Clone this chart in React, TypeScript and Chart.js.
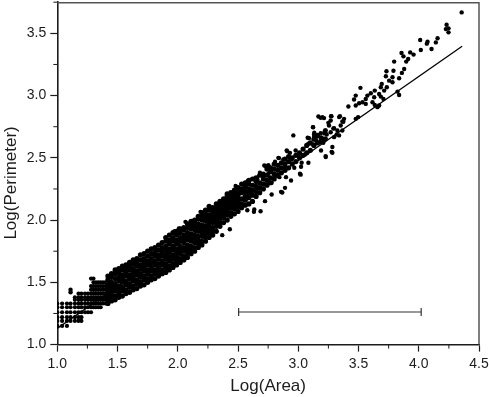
import React, { useEffect, useRef } from "react";
import { Chart, registerables } from "chart.js";

Chart.register(...registerables);

const areaSteps = [1.0, 1.04, 1.08, 1.11, 1.146, 1.176, 1.2, 1.23, 1.255, 1.28, 1.3, 1.32, 1.34, 1.36, 1.38, 1.4, 1.415];
const rowLevels = [1.15, 1.19, 1.22, 1.26, 1.3, 1.33, 1.36, 1.38, 1.41, 1.44, 1.47, 1.5, 1.53];
const rowExtents = [
  [1.0, 1.08], [1.0, 1.2], [1.0, 1.2], [1.0, 1.29], [1.0, 1.36], [1.0, 1.415],
  [1.146, 1.415], [1.146, 1.415], [1.176, 1.415], [1.28, 1.415], [1.28, 1.415], [1.3, 1.415], [1.28, 1.3],
];
const denseColumnX = [
  1.42, 1.45, 1.48, 1.51, 1.54, 1.57, 1.6, 1.63, 1.66, 1.69, 1.72, 1.75, 1.78, 1.81, 1.84, 1.87, 1.9, 1.93, 1.96, 1.99,
  2.02, 2.05, 2.08, 2.11, 2.14, 2.17, 2.2, 2.23, 2.26, 2.29, 2.32, 2.35, 2.38, 2.41, 2.44, 2.47, 2.5, 2.53, 2.56, 2.59,
  2.62, 2.65, 2.68, 2.71, 2.74, 2.77, 2.8, 2.83, 2.86, 2.89, 2.92, 2.95, 2.98, 3.01, 3.04, 3.07, 3.1, 3.13, 3.16, 3.19, 3.22,
];
const denseColumnY = [
  [1.33, 1.36, 1.39, 1.42, 1.45, 1.49, 1.52, 1.55],
  [1.35, 1.38, 1.41, 1.44, 1.47, 1.5, 1.54, 1.57],
  [1.36, 1.39, 1.43, 1.46, 1.49, 1.53, 1.57, 1.6],
  [1.38, 1.41, 1.44, 1.47, 1.51, 1.54, 1.58, 1.61],
  [1.39, 1.43, 1.46, 1.5, 1.53, 1.56, 1.6, 1.63],
  [1.41, 1.44, 1.48, 1.51, 1.55, 1.58, 1.61, 1.64],
  [1.42, 1.46, 1.49, 1.53, 1.56, 1.6, 1.63, 1.66],
  [1.44, 1.47, 1.51, 1.54, 1.58, 1.61, 1.65, 1.68],
  [1.45, 1.49, 1.52, 1.56, 1.59, 1.63, 1.66, 1.69],
  [1.47, 1.5, 1.54, 1.57, 1.61, 1.64, 1.68, 1.72],
  [1.48, 1.52, 1.55, 1.59, 1.62, 1.66, 1.69, 1.73],
  [1.5, 1.53, 1.57, 1.6, 1.64, 1.67, 1.71, 1.75],
  [1.52, 1.55, 1.59, 1.62, 1.66, 1.69, 1.73, 1.77],
  [1.53, 1.57, 1.6, 1.64, 1.67, 1.71, 1.74, 1.78],
  [1.55, 1.58, 1.62, 1.65, 1.69, 1.72, 1.76, 1.8],
  [1.57, 1.6, 1.64, 1.67, 1.71, 1.74, 1.78, 1.82],
  [1.58, 1.62, 1.65, 1.69, 1.72, 1.76, 1.79, 1.83, 1.86],
  [1.6, 1.63, 1.67, 1.7, 1.74, 1.77, 1.81, 1.84, 1.88],
  [1.62, 1.65, 1.69, 1.72, 1.76, 1.79, 1.83, 1.86, 1.9],
  [1.64, 1.67, 1.7, 1.74, 1.77, 1.81, 1.84, 1.88, 1.91],
  [1.66, 1.69, 1.73, 1.76, 1.79, 1.83, 1.86, 1.9, 1.93],
  [1.68, 1.71, 1.75, 1.78, 1.82, 1.85, 1.88, 1.92, 1.94],
  [1.7, 1.74, 1.77, 1.8, 1.84, 1.87, 1.9, 1.94, 1.97],
  [1.73, 1.76, 1.79, 1.83, 1.86, 1.89, 1.93, 1.96, 1.99],
  [1.75, 1.78, 1.82, 1.85, 1.88, 1.92, 1.95, 1.98, 2.0],
  [1.78, 1.81, 1.84, 1.87, 1.91, 1.94, 1.97, 2.01, 2.03],
  [1.8, 1.83, 1.87, 1.9, 1.93, 1.96, 2.0, 2.03, 2.06],
  [1.83, 1.86, 1.89, 1.92, 1.95, 1.99, 2.02, 2.05, 2.08],
  [1.86, 1.89, 1.92, 1.95, 1.98, 2.01, 2.04, 2.08, 2.11],
  [1.88, 1.91, 1.94, 1.98, 2.01, 2.04, 2.07, 2.1],
  [1.91, 1.95, 1.98, 2.01, 2.04, 2.07, 2.1, 2.13],
  [1.95, 1.98, 2.01, 2.04, 2.07, 2.1, 2.12, 2.15],
  [1.98, 2.02, 2.05, 2.08, 2.11, 2.14, 2.17],
  [2.0, 2.04, 2.07, 2.1, 2.13, 2.16, 2.19, 2.21],
  [2.03, 2.06, 2.1, 2.13, 2.16, 2.19, 2.22],
  [2.05, 2.09, 2.12, 2.15, 2.18, 2.21, 2.24],
  [2.07, 2.11, 2.14, 2.17, 2.2, 2.23, 2.26],
  [2.1, 2.13, 2.17, 2.22, 2.25, 2.29],
  [2.12, 2.16, 2.19, 2.23, 2.27, 2.3],
  [2.13, 2.18, 2.22, 2.25, 2.29, 2.32],
  [2.15, 2.2, 2.24, 2.28, 2.33],
  [2.19, 2.23, 2.27, 2.31, 2.34],
  [2.22, 2.26, 2.3, 2.36],
  [2.25, 2.29, 2.33, 2.37],
  [2.28, 2.32, 2.36, 2.41],
  [2.3, 2.34, 2.39, 2.42],
  [2.33, 2.37, 2.41, 2.45],
  [2.36, 2.4, 2.44],
  [2.38, 2.42, 2.46],
  [2.4, 2.45, 2.49],
  [2.42, 2.47, 2.51],
  [2.45, 2.5],
  [2.47, 2.52],
  [2.5, 2.54],
  [2.52, 2.57],
  [2.54, 2.6],
  [2.56, 2.62],
  [2.6, 2.65],
  [2.62, 2.68],
  [2.63, 2.66],
  [2.65, 2.7],
];
const sparseX = [
  4.356, 4.231, 4.225, 4.247, 4.247, 4.156, 4.142, 4.073, 4.067, 4.012, 4.017, 4.106, 3.857, 3.873, 3.929, 3.957, 3.912, 3.896, 3.796, 3.732,
  3.79, 3.879, 3.86, 3.837, 3.782, 3.754, 3.727, 3.693, 3.685, 3.735, 3.782, 3.516, 3.824, 3.837, 3.713, 3.671, 3.635, 3.602, 3.574, 3.56,
  3.63, 3.685, 3.707, 3.477, 3.463, 3.505, 3.533, 3.477, 3.416, 3.56, 3.616, 3.635, 3.671, 3.657, 3.186, 3.214, 3.275, 3.269, 3.339, 3.38,
  3.366, 3.497, 3.477, 3.123, 3.255, 3.297, 3.352, 3.228, 3.186, 3.269, 3.325, 3.366, 3.131, 3.089, 3.228, 3.297, 3.339, 3.145,
  2.959, 3.122, 2.48, 1.973, 2.009, 2.687, 2.867, 3.02, 3.228, 3.283, 3.283, 1.11, 1.11,
  3.167, 3.2, 3.272, 3.25, 3.346, 3.374, 3.222, 3.291, 3.133, 3.133, 3.078, 3.236, 3.319, 3.153, 3.084, 3.208, 3.125, 3.277, 3.227, 3.189,
  2.904, 2.978, 2.931, 3.0, 3.056, 2.835, 2.807, 2.876, 2.945, 3.028, 3.084, 2.718, 2.752, 2.89, 2.967, 3.023, 3.014, 2.898, 2.94, 2.843,
  2.682, 2.752, 2.807, 2.71, 2.58, 2.641, 2.779, 2.89, 2.857, 2.635, 2.724, 2.779,
  2.432, 2.369, 2.577, 2.632, 2.064, 2.189, 2.286, 2.341, 2.416, 2.59, 2.66, 2.729, 2.84, 2.909,
];
const sparseY = [
  3.668, 3.569, 3.534, 3.54, 3.508, 3.46, 3.427, 3.433, 3.417, 3.446, 3.366, 3.374, 3.342, 3.315, 3.347, 3.329, 3.294, 3.273, 3.273, 3.195,
  3.2, 3.214, 3.182, 3.139, 3.147, 3.12, 3.155, 3.094, 3.067, 3.067, 3.107, 3.062, 3.032, 3.005, 3.04, 3.013, 3.04, 3.019, 3.0, 2.973,
  2.987, 2.992, 2.973, 3.0, 2.968, 2.939, 2.947, 2.92, 2.912, 2.933, 2.947, 2.925, 2.92, 2.907, 2.821, 2.819, 2.835, 2.8, 2.827, 2.813,
  2.792, 2.827, 2.813, 2.746, 2.76, 2.738, 2.76, 2.72, 2.698, 2.706, 2.72, 2.72, 2.688, 2.658, 2.653, 2.666, 2.68, 2.653,
  2.68, 2.747, 2.274, 1.911, 1.932, 2.071, 2.221, 2.365, 2.507, 2.587, 2.541, 1.44, 1.42,
  2.832, 2.827, 2.835, 2.781, 2.835, 2.789, 2.72, 2.736, 2.701, 2.674, 2.661, 2.687, 2.687, 2.634, 2.613, 2.621, 2.607, 2.548, 2.514, 2.559,
  2.559, 2.559, 2.54, 2.527, 2.527, 2.5, 2.468, 2.487, 2.487, 2.46, 2.46, 2.439, 2.441, 2.433, 2.42, 2.428, 2.372, 2.345, 2.318, 2.345,
  2.38, 2.372, 2.353, 2.34, 2.313, 2.334, 2.3, 2.259, 2.227, 2.086, 2.152, 2.206,
  1.927, 1.879, 2.079, 2.066, 1.986, 2.066, 2.098, 2.125, 2.194, 2.306, 2.328, 2.434, 2.498, 2.552,
];
const fitX = [1.0, 4.36];
const fitY = [1.13, 3.396];
const barX = [2.505, 4.02];
const barY = [1.262, 1.262];
const xMajor = [1.0, 1.5, 2.0, 2.5, 3.0, 3.5, 4.0, 4.5];
const yMajor = [1.0, 1.5, 2.0, 2.5, 3.0, 3.5];
const yTitle = "Log(Perimeter)";

const rowPoints = rowLevels.flatMap((y, i) =>
  areaSteps.filter((x) => x >= rowExtents[i][0] && x <= rowExtents[i][1]).map((x) => ({ x, y }))
);
const densePoints = denseColumnX.flatMap((x, i) => denseColumnY[i].map((y) => ({ x, y })));
const sparsePoints = sparseX.map((x, i) => ({ x, y: sparseY[i] }));

const ink = "#1c1c1c";
const fontFamily = "'Liberation Sans', Arial, sans-serif";

const framePlugin = {
  id: "frame",
  afterDraw(chart: any) {
    const { ctx, chartArea: a, scales } = chart;
    ctx.save();
    ctx.strokeStyle = "#555";
    ctx.lineWidth = 1.5;
    ctx.beginPath();
    ctx.moveTo(a.left, a.top + 0.5);
    ctx.lineTo(a.right, a.top + 0.5);
    ctx.lineTo(a.right, a.bottom);
    ctx.stroke();
    ctx.strokeStyle = ink;
    ctx.lineWidth = 1;
    ctx.beginPath();
    for (const t of xMajor.slice(0, -1)) {
      const p = scales.x.getPixelForValue(t + 0.25);
      ctx.moveTo(p, a.bottom);
      ctx.lineTo(p, a.bottom + 4);
    }
    for (const t of yMajor) {
      const p = scales.y.getPixelForValue(t + 0.25);
      ctx.moveTo(a.left, p);
      ctx.lineTo(a.left - 4, p);
    }
    ctx.stroke();
    ctx.fillStyle = ink;
    ctx.font = `17px ${fontFamily}`;
    ctx.textAlign = "center";
    ctx.textBaseline = "middle";
    ctx.translate(11, a.top + (a.bottom - a.top) / 2 + 9.5);
    ctx.rotate(-Math.PI / 2);
    ctx.fillText(yTitle, 0, 0);
    ctx.restore();
  },
};

export default function App() {
  const ref = useRef<HTMLCanvasElement>(null);
  useEffect(() => {
    const chart = new Chart(ref.current!, {
      type: "scatter",
      plugins: [framePlugin],
      data: {
        datasets: [
          { data: rowPoints, pointRadius: 2.1, pointBackgroundColor: "#000", pointBorderWidth: 0, showLine: false },
          { data: densePoints, pointRadius: 2.6, pointBackgroundColor: "#000", pointBorderWidth: 0, showLine: false },
          { data: sparsePoints, pointRadius: 2.2, pointBackgroundColor: "#000", pointBorderWidth: 0, showLine: false },
          {
            data: fitX.map((x, i) => ({ x, y: fitY[i] })),
            showLine: true,
            borderColor: "#000",
            borderWidth: 1.3,
            pointRadius: 0,
          },
          {
            data: barX.map((x, i) => ({ x, y: barY[i] })),
            showLine: true,
            borderColor: "#333",
            borderWidth: 1.2,
            pointStyle: "line",
            rotation: 90,
            pointRadius: 4,
            pointBorderColor: "#333",
            pointBorderWidth: 1.2,
          },
        ],
      },
      options: {
        responsive: false,
        animation: false,
        layout: { padding: { top: 0, right: 10, left: 0, bottom: 0 } },
        plugins: { legend: { display: false }, tooltip: { enabled: false } },
        scales: {
          x: {
            type: "linear",
            min: 1,
            max: 4.5,
            afterFit: (s: any) => {
              s.height = 53.4;
              s.paddingLeft = 0;
              s.paddingRight = 0;
            },
            afterBuildTicks: (s: any) => {
              s.ticks = xMajor.map((value) => ({ value }));
            },
            grid: { drawOnChartArea: false, tickLength: 7, tickColor: ink, tickWidth: 1.2 },
            border: { color: ink, width: 1.6 },
            ticks: {
              color: ink,
              font: { family: fontFamily, size: 14 },
              padding: 4,
              maxRotation: 0,
              autoSkip: false,
              callback: (v: any) => Number(v).toFixed(1),
            },
            title: { display: true, text: "Log(Area)", color: ink, font: { family: fontFamily, size: 17 }, padding: { top: 1, bottom: 1 } },
          },
          y: {
            type: "linear",
            min: 1,
            max: 3.75,
            afterFit: (s: any) => {
              s.width = 57.3;
              s.paddingTop = 0;
              s.paddingBottom = 0;
            },
            afterBuildTicks: (s: any) => {
              s.ticks = yMajor.map((value) => ({ value }));
            },
            grid: { drawOnChartArea: false, tickLength: 7, tickColor: ink, tickWidth: 1.2 },
            border: { color: ink, width: 1.6 },
            ticks: {
              color: ink,
              font: { family: fontFamily, size: 14 },
              padding: 4,
              autoSkip: false,
              callback: (v: any) => Number(v).toFixed(1),
            },
          },
        },
      },
    });
    return () => chart.destroy();
  }, []);
  return (
    <div style={{ position: "absolute", left: 0, top: 0, width: 489, height: 397, overflow: "hidden" }}>
      <canvas ref={ref} width={489} height={401} style={{ display: "block", marginTop: -3 }} />
    </div>
  );
}
